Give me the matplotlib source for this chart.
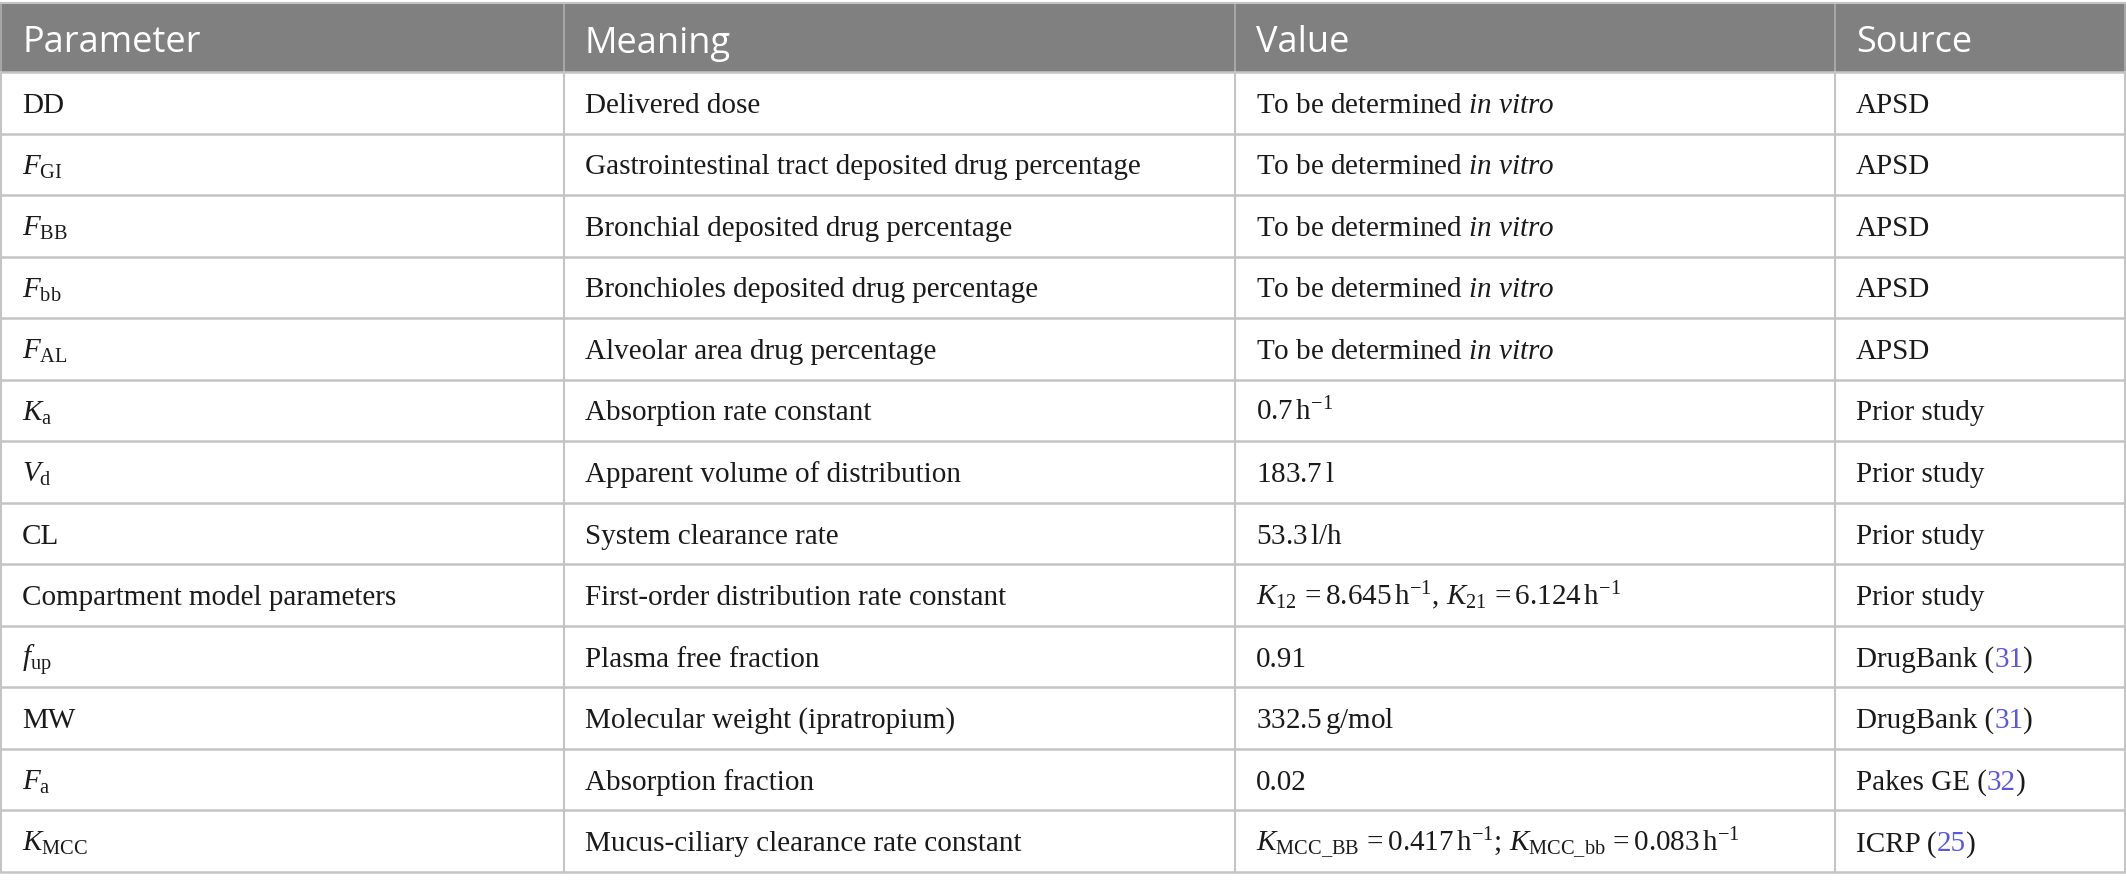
import matplotlib
matplotlib.use("Agg")
import matplotlib.pyplot as plt
from matplotlib.patches import Rectangle

plt.rcParams['mathtext.fontset'] = 'custom'
plt.rcParams['mathtext.rm'] = 'Liberation Serif'
plt.rcParams['mathtext.it'] = 'Liberation Serif:italic'
plt.rcParams['mathtext.bf'] = 'Liberation Serif:bold'

# table content
headers = ['Parameter', 'Meaning', 'Value', 'Source']
params = ['DD', r'$F_{\mathrm{GI}}$', r'$F_{\mathrm{BB}}$', r'$F_{\mathrm{bb}}$',
          r'$F_{\mathrm{AL}}$', r'$K_{\mathrm{a}}$', r'$V_{\mathrm{d}}$', 'CL',
          'Compartment model parameters', r'$f_{\mathrm{up}}$', 'MW',
          r'$F_{\mathrm{a}}$', r'$K_{\mathrm{MCC}}$']
meanings = ['Delivered dose',
            'Gastrointestinal tract deposited drug percentage',
            'Bronchial deposited drug percentage',
            'Bronchioles deposited drug percentage',
            'Alveolar area drug percentage',
            'Absorption rate constant',
            'Apparent volume of distribution',
            'System clearance rate',
            'First-order distribution rate constant',
            'Plasma free fraction',
            'Molecular weight (ipratropium)',
            'Absorption fraction',
            'Mucus-ciliary clearance rate constant']
values = [r'To be determined $\mathit{in\ vitro}$'] * 5 + [
    r'$\mathrm{0.7\,h^{-1}}$',
    r'$\mathrm{183.7\,l}$',
    r'$\mathrm{53.3\,l/h}$',
    r'$K_{\mathrm{12}}\,\mathrm{=8.645\,h^{-1}}$, $K_{\mathrm{21}}\,\mathrm{=6.124\,h^{-1}}$',
    '0.91',
    r'$\mathrm{332.5\,g/mol}$',
    '0.02',
    r'$K_{\mathrm{MCC\_BB}}\,\mathrm{=0.417\,h^{-1}}$; $K_{\mathrm{MCC\_bb}}\,\mathrm{=0.083\,h^{-1}}$']
sources = ['APSD'] * 5 + ['Prior study'] * 4 + ['DrugBank', 'DrugBank', 'Pakes GE', 'ICRP']
refs = [None] * 9 + ['31', '31', '32', '25']

# layout (pixels)
W, H = 2126, 887
col_edges = [1, 564, 1235, 1835, 2125]
top, head_bot, bottom = 4, 73, 873
pad = 21
head_color = '#808080'
line_color = '#c4c4c4'
ref_color = '#5b57e0'
body_fs = 21
head_fs = 26

fig = plt.figure(figsize=(W / 100, H / 100), dpi=100)
ax = fig.add_axes([0, 0, 1, 1])
ax.set_xlim(0, W)
ax.set_ylim(H, 0)
ax.axis('off')

nrows = len(params)
row_h = (bottom - head_bot) / nrows

# header
ax.add_patch(Rectangle((col_edges[0], top), col_edges[-1] - col_edges[0], head_bot - top,
                       facecolor=head_color, edgecolor='none'))
for j, h in enumerate(headers):
    ax.text(col_edges[j] + pad, (top + head_bot) / 2 + 14, h, fontsize=head_fs,
            family='Open Sans', color='white', va='baseline', ha='left')

# grid lines
for j, x in enumerate(col_edges):
    ax.plot([x, x], [top, head_bot], color='#a6a6a6', lw=1.5)
    ax.plot([x, x], [head_bot, bottom], color=line_color, lw=1.5)
ax.plot([col_edges[0], col_edges[-1]], [top, top], color=line_color, lw=1.5)
for i in range(nrows + 1):
    y = head_bot + i * row_h
    ax.plot([col_edges[0], col_edges[-1]], [y, y], color=line_color, lw=1.8)

# body
for i in range(nrows):
    yb = head_bot + (i + 0.5) * row_h + 9
    for j, s in enumerate([params[i], meanings[i], values[i]]):
        ax.text(col_edges[j] + pad, yb, s, fontsize=body_fs, family='Liberation Serif',
                color='#1a1a1a', va='baseline', ha='left')
    if refs[i] is None:
        ax.text(col_edges[3] + pad, yb, sources[i], fontsize=body_fs,
                family='Liberation Serif', color='#1a1a1a', va='baseline', ha='left')
    else:
        prev = ax.text(col_edges[3] + pad, yb, sources[i] + ' (', fontsize=body_fs,
                       family='Liberation Serif', color='#1a1a1a', va='baseline', ha='left')
        for piece, c in [(refs[i], ref_color), (')', '#1a1a1a')]:
            prev = ax.annotate(piece, xy=(1, yb), xycoords=(prev, 'data'),
                               fontsize=body_fs, family='Liberation Serif', color=c,
                               va='baseline', ha='left')

fig.savefig('out.png', dpi=100, facecolor='white')
